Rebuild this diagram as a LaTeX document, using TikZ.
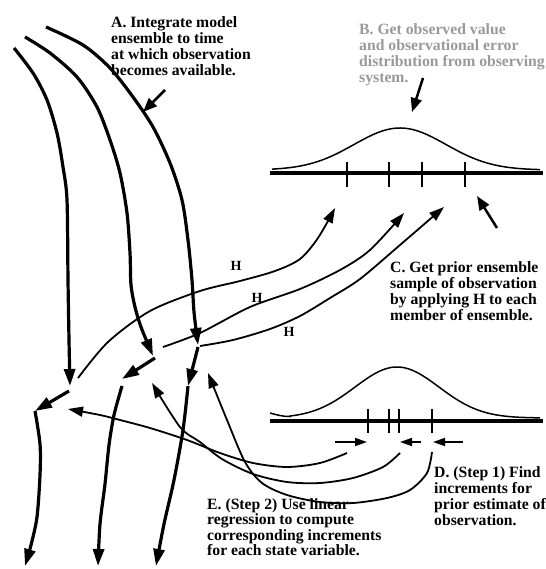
\documentclass[tikz,border=0pt]{standalone}
\usepackage{fontspec}
\setmainfont{Liberation Serif}
\usetikzlibrary{arrows.meta}
\newcommand{\mylines}[1]{\vtop{\halign{##\hfil\cr#1\crcr}}}
\begin{document}
\begin{tikzpicture}[x=1pt,y=-1pt,
  traj/.style={line width=3.2pt},
  bigtip/.style={-{Triangle[length=17pt,width=11pt]}},
  hmap/.style={line width=1.8pt,-{Triangle[length=15pt,width=10pt]}},
  regr/.style={line width=1.8pt,-{Triangle[length=15pt,width=10pt]}},
  incr/.style={line width=1.8pt,-{Triangle[length=12pt,width=8pt]}},
  pointer/.style={line width=2.5pt,-{Triangle[length=14pt,width=11pt]}},
  txt/.style={inner sep=0pt,anchor=base west,font=\fontsize{15.7pt}{16pt}\selectfont\bfseries},
  hlab/.style={inner sep=0pt,font=\fontsize{14pt}{14pt}\selectfont\bfseries},
  axisline/.style={line width=4pt},
  tickmark/.style={line width=2.5pt},
  pdf/.style={line width=1.5pt}
]
\useasboundingbox (0,0) rectangle (545,569);

% --- key coordinates
\coordinate (t1s) at (14,48);   \coordinate (t1e) at (70,386);
\coordinate (t2s) at (25,37);   \coordinate (t2e) at (153,356);
\coordinate (t3s) at (46,27);   \coordinate (t3e) at (198,345);
\coordinate (j1) at (69,391);   \coordinate (n1) at (35,411);
\coordinate (j2) at (155,358);  \coordinate (n2) at (122,379);
\coordinate (j3) at (198,347);  \coordinate (n3) at (188,386);
\coordinate (c2s) at (122,386);
\coordinate (b1) at (25,566); \coordinate (b2) at (98,566); \coordinate (b3) at (156,566);

% --- prior trajectories
\draw[traj,bigtip] plot[smooth] coordinates {(t1s) (33,73) (47,100) (57,133) (63,167) (67,200) (68,280) (69,340) (t1e)};
\draw[traj,bigtip] plot[smooth] coordinates {(t2s) (50,53) (77,77) (97,107) (110,140) (120,173) (127,213) (130,253) (131,285) (135,307) (141,327) (t2e)};
\draw[traj,bigtip] plot[smooth] coordinates {(t3s) (83,45) (110,68) (133,97) (153,127) (170,163) (182,200) (188,240) (192,280) (194,312) (t3e)};

% --- increments to state variables
\draw[traj,bigtip] (j1) -- (n1);
\draw[traj,bigtip] (j2) -- (n2);
\draw[traj,bigtip] (j3) -- (n3);

% --- posterior continuation
\draw[traj,bigtip] plot[smooth] coordinates {(n1) (40,444) (40,475) (37,517) (31,545) (b1)};
\draw[traj,bigtip] plot[smooth] coordinates {(c2s) (114,415) (109,445) (105,484) (100,524) (b2)};
\draw[traj,bigtip] plot[smooth] coordinates {(n3) (183,430) (174,480) (164,524) (b3)};

% --- H mappings
\coordinate (h1e) at (335,208); \coordinate (h2e) at (404,213); \coordinate (h3e) at (444,207);
\coordinate (h1s) at (78,378); \coordinate (h2s) at (163,347); \coordinate (h3s) at (200,346);
\draw[hmap] plot[smooth] coordinates {(h1s) (108,342) (150,311) (200,291) (240,281) (275,271) (300,259) (318,238) (h1e)};
\draw[hmap] plot[smooth] coordinates {(h2s) (200,333) (250,307) (300,289) (340,270) (370,250) (h2e)};
\draw[hmap] plot[smooth] coordinates {(h3s) (233,340) (270,329) (300,316) (330,298) (360,279) (400,245) (h3e)};
\node[hlab] (H1) at (236,266) {H};
\node[hlab] (H2) at (257,298) {H};
\node[hlab] (H3) at (289,332) {H};

% --- top distribution
\draw[pdf] plot[domain=272:540,samples=120] (\x,{170-42*exp(-0.5*((\x-400)/46)^2)});
\draw[axisline] (270,173) -- (543,173);
\foreach \t in {347,389,422,465} \draw[tickmark] (\t,162) -- (\t,187);

% --- bottom distribution
\draw[pdf] (270,413) to[out=-15,in=180] (290,416.5) -- plot[domain=290:540,samples=120] (\x,{418-51*exp(-0.5*((\x-397)/42)^2)});
\draw[axisline] (270,421) -- (543,421);
\foreach \t in {368,389,399,432} \draw[tickmark] (\t,409) -- (\t,433);

% --- observation increments
\coordinate (d1s) at (335,442); \coordinate (d1e) at (367,442);
\coordinate (d2s) at (421,442); \coordinate (d2e) at (400,442);
\coordinate (d3s) at (463,442); \coordinate (d3e) at (433,442);
\draw[incr] (d1s) -- (d1e);
\draw[incr] (d2s) -- (d2e);
\draw[incr] (d3s) -- (d3e);

% --- regression arrows
\coordinate (e1s) at (347,453); \coordinate (e1e) at (68,409);
\coordinate (e2s) at (400,453); \coordinate (e2e) at (152,383);
\coordinate (e3s) at (432,452); \coordinate (e3e) at (208,373);
\draw[regr] plot[smooth] coordinates {(e1s) (320,463) (287,467) (253,463) (220,453) (187,440) (150,428) (120,420) (100,415) (e1e)};
\draw[regr] plot[smooth] coordinates {(e2s) (383,467) (353,478) (320,483) (287,482) (253,474) (222,459) (200,442) (180,427) (e2e)};
\draw[regr] plot[smooth] coordinates {(e3s) (427,473) (410,490) (387,498) (353,503) (320,502) (287,495) (262,483) (245,462) (227,420) (e3e)};

% --- pointer arrows
\coordinate (pAs) at (165,90);  \coordinate (pAe) at (143,112);
\coordinate (pBs) at (423,78);  \coordinate (pBe) at (412,112);
\coordinate (pCs) at (497,228); \coordinate (pCe) at (477,196);
\draw[pointer] (pAs) -- (pAe);
\draw[pointer] (pBs) -- (pBe);
\draw[pointer] (pCs) -- (pCe);

% --- texts
\node[txt] (tA) at (111,28) {\mylines{A. Integrate model\cr ensemble to time\cr at which observation\cr becomes available.}};
\node[txt,text=black!40] (tB) at (359,35) {\mylines{B. Get observed value\cr and observational error\cr distribution from observing\cr system.}};
\node[txt] (tC) at (390,272) {\mylines{C. Get prior ensemble\cr sample of observation\cr by applying H to each\cr member of ensemble.}};
\node[txt] (tD) at (434,477) {\mylines{D. (Step 1) Find\cr increments for\cr prior estimate of\cr observation.}};
\node[txt,font=\fontsize{15.7pt}{15.6pt}\selectfont\bfseries] (tE) at (207,509) {\mylines{E. (Step 2) Use linear\cr regression to compute\cr corresponding increments\cr for each state variable.}};
\end{tikzpicture}
\end{document}
